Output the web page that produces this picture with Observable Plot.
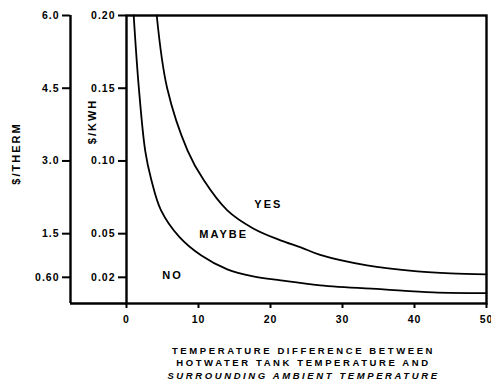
<!DOCTYPE html>
<html>
<head>
<meta charset="utf-8">
<script src="https://cdn.jsdelivr.net/npm/d3@7"></script>
<script src="https://cdn.jsdelivr.net/npm/@observablehq/plot@0.6"></script>
<style>
  html, body { margin: 0; padding: 0; background: #fff; }
  #chart svg { display: block; }
  #chart text { font-weight: bold; }
  .tick-lbl text { letter-spacing: 1px; }
  .region text { letter-spacing: 2px; }
  .ytitle text { letter-spacing: 2px; }
  .xtitle text { letter-spacing: 2.6px; }
</style>
</head>
<body>
<div id="chart"></div>
<script>
// ---- data ----
const xTicks = [0, 10, 20, 30, 40, 50];
const kwhTicks = [0.02, 0.05, 0.10, 0.15, 0.20];
const kwhLabels = ["0.02", "0.05", "0.10", "0.15", "0.20"];
const thermLabels = ["0.60", "1.5", "3.0", "4.5", "6.0"];

// NO / MAYBE boundary
const lowerT = [1.0, 1.7, 2.6, 3.4, 4.8, 7.3, 10.4, 14.0, 17.6, 21.4, 26.9, 35.7, 42.6, 50];
const lowerV = [0.200, 0.151, 0.107, 0.088, 0.066, 0.048, 0.035, 0.0255, 0.0207, 0.0179, 0.0145, 0.0117, 0.0097, 0.0092];
// MAYBE / YES boundary
const upperT = [4.2, 5.65, 8.5, 10.7, 14.0, 17.6, 21.4, 24.2, 26.9, 33.4, 40.4, 45, 50];
const upperV = [0.200, 0.150, 0.107, 0.087, 0.066, 0.0536, 0.0454, 0.0406, 0.0354, 0.0282, 0.0241, 0.0227, 0.022];

const regionNames = ["YES", "MAYBE", "NO"];
const regionT = [19.7, 13.5, 6.4];
const regionV = [0.070, 0.0496, 0.0214];

const xTitle = ["TEMPERATURE DIFFERENCE BETWEEN", "HOTWATER TANK TEMPERATURE AND", "SURROUNDING AMBIENT TEMPERATURE"];
const yTitleTherm = "$/THERM";
const yTitleKwh = "$/KWH";

// ---- build ----
const lower = lowerT.map((t, i) => ({t, v: lowerV[i]}));
const upper = upperT.map((t, i) => ({t, v: upperV[i]}));
const regions = regionNames.map((name, i) => ({name, t: regionT[i], v: regionV[i]}));

const W = 491, H = 381, mL = 126, mR = 5, mT = 15, mB = 78;
const yMin = 0.002, yMax = 0.20;
const pxX = (W - mL - mR) / 50;                 // px per x unit
const pxY = (H - mT - mB) / (yMax - yMin);      // px per y unit
const outerOffset = -56;                        // $/THERM axis, px left of the main axis
const xOuter = outerOffset / pxX;
const tickLen = 8, xTickLen = 5;

const fam = "'Liberation Sans', Arial, sans-serif";

const chart = Plot.plot({
  width: W, height: H,
  marginLeft: mL, marginRight: mR, marginTop: mT, marginBottom: mB,
  style: {fontFamily: fam, fontSize: "10px", color: "#000", background: "#fff"},
  x: {domain: [0, 50]},
  y: {domain: [yMin, yMax]},
  marks: [
    Plot.frame({strokeWidth: 2.4}),
    Plot.ruleX([0], {dx: outerOffset, strokeWidth: 2.4}),
    Plot.ruleY([yMin], {x1: xOuter, x2: 0, strokeWidth: 2.4}),
    // tick marks
    Plot.ruleX(xTicks, {y1: yMin, y2: yMin - xTickLen / pxY, strokeWidth: 2}),
    Plot.ruleY(kwhTicks, {x1: -tickLen / pxX, x2: 0, strokeWidth: 2}),
    Plot.ruleY(kwhTicks, {x1: xOuter - tickLen / pxX, x2: xOuter, strokeWidth: 2}),
    // tick labels
    Plot.axisX(xTicks, {tickSize: 0, tickPadding: 12, fontSize: 10.5, label: null, className: "tick-lbl"}),
    Plot.axisY(kwhTicks, {anchor: "left", tickSize: 0, tickPadding: 11, fontSize: 10.5,
      tickFormat: d => kwhLabels[kwhTicks.indexOf(d)], label: null, className: "tick-lbl"}),
    Plot.axisY(kwhTicks, {anchor: "left", dx: outerOffset, tickSize: 0, tickPadding: 11, fontSize: 10.5,
      tickFormat: d => thermLabels[kwhTicks.indexOf(d)], label: null, className: "tick-lbl"}),
    // curves
    Plot.line(lower, {x: "t", y: "v", curve: "catmull-rom", strokeWidth: 1.8}),
    Plot.line(upper, {x: "t", y: "v", curve: "catmull-rom", strokeWidth: 1.8}),
    Plot.text(regions, {x: "t", y: "v", text: "name", fontSize: 11, className: "region"}),
    // axis titles
    Plot.text([yTitleTherm], {frameAnchor: "left", textAnchor: "middle", lineAnchor: "middle", rotate: -90, dx: -110, dy: -6, fontSize: 11, className: "ytitle"}),
    Plot.text([yTitleKwh], {frameAnchor: "left", textAnchor: "middle", lineAnchor: "middle", rotate: -90, dx: -34, dy: -38, fontSize: 11, className: "ytitle"}),
    Plot.text([xTitle[0]], {frameAnchor: "bottom", textAnchor: "middle", lineAnchor: "middle", dx: -3, dy: 47, fontSize: 9.5, className: "xtitle"}),
    Plot.text([xTitle[1]], {frameAnchor: "bottom", textAnchor: "middle", lineAnchor: "middle", dx: -3, dy: 59.5, fontSize: 9.5, className: "xtitle"}),
    Plot.text([xTitle[2]], {frameAnchor: "bottom", textAnchor: "middle", lineAnchor: "middle", dx: -3, dy: 72, fontSize: 9.5, fontStyle: "italic", className: "xtitle"})
  ]
});
document.getElementById("chart").appendChild(chart);
</script>
</body>
</html>
